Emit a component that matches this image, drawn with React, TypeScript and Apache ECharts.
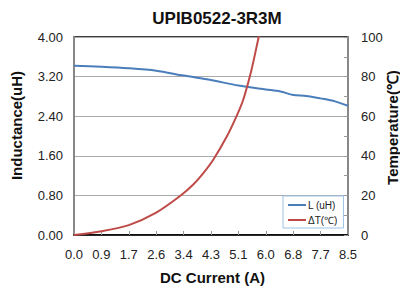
import React, { useEffect, useRef } from "react";
import * as echarts from "echarts";

const xTickLabels = ["0.0", "0.9", "1.7", "2.6", "3.4", "4.3", "5.1", "6.0", "6.8", "7.7", "8.5"];
const lCurrent = [0, 0.85, 1.7, 2.55, 3.4, 4.25, 5.1, 5.95, 6.4, 6.8, 7.2, 7.65, 8.1, 8.5];
const lValues = [3.42, 3.4, 3.37, 3.32, 3.22, 3.13, 3.02, 2.94, 2.9, 2.83, 2.81, 2.76, 2.7, 2.61];
const tCurrent = [0, 0.85, 1.7, 2.55, 3.3, 3.7, 4.0, 4.32, 4.74, 5.05, 5.25, 5.5, 5.65, 5.8];
const tValues = [0, 1.9, 5, 11.3, 19.8, 25.5, 31, 38, 49.7, 60.3, 68.3, 83, 94, 105.5];

const FONT = "Liberation Sans, Arial, sans-serif";

export default function App() {
  const ref = useRef<HTMLDivElement>(null);
  useEffect(() => {
    if (!ref.current) return;
    const chart = echarts.init(ref.current, null, { renderer: "svg" });
    const nameStyle = (text: string) => ({
      text,
      fontFamily: FONT,
      fontWeight: "bold",
      fontSize: 15,
      fill: "#111",
      align: "center",
      verticalAlign: "middle",
    });
    chart.setOption({
      animation: false,
      backgroundColor: "#fff",
      textStyle: { fontFamily: FONT },
      title: {
        text: "UPIB0522-3R3M",
        left: 212,
        top: 5,
        textAlign: "center",
        textStyle: { fontFamily: FONT, fontWeight: "bold", fontSize: 17, color: "#111" },
      },
      legend: {
        orient: "vertical",
        left: 283,
        top: 196,
        padding: [4, 6, 3, 5],
        itemGap: 5,
        itemWidth: 18,
        itemHeight: 2,
        icon: "rect",
        borderColor: "#9dc3e6",
        borderWidth: 1,
        backgroundColor: "#fff",
        textStyle: { fontFamily: FONT, fontSize: 10, color: "#222", padding: [0, 0, 0, -3] },
        data: ["L (uH)", "ΔT(℃)"],
      },
      graphic: [
        { type: "text", x: 16.5, y: 125.5, rotation: Math.PI / 2, style: nameStyle("Inductance(uH)") },
        { type: "text", x: 392, y: 127.5, rotation: Math.PI / 2, style: nameStyle("Temperature(℃)") },
        { type: "text", x: 212.5, y: 277, style: nameStyle("DC Current (A)") },
      ],
      grid: {
        left: 74,
        right: 60,
        top: 37,
        bottom: 53,
        show: true,
        borderColor: "#000",
        borderWidth: 1.5,
        backgroundColor: "#fff",
      },
      xAxis: {
        type: "value",
        min: 0,
        max: 8.5,
        interval: 0.85,
        axisLine: { lineStyle: { color: "#000", width: 1.5 } },
        axisTick: { inside: true, length: 4, lineStyle: { color: "#999" } },
        axisLabel: {
          margin: 13,
          fontSize: 13,
          color: "#222",
          fontFamily: FONT,
          formatter: (v: number) => xTickLabels[Math.round(v / 0.85)] ?? "",
        },
        splitLine: { show: false },
      },
      yAxis: [
        {
          type: "value",
          min: 0,
          max: 4,
          interval: 0.8,
          axisLine: { show: true, lineStyle: { color: "#888", width: 2 } },
          axisTick: { show: false },
          axisLabel: {
            margin: 11,
            fontSize: 13,
            color: "#222",
            fontFamily: FONT,
            formatter: (v: number) => v.toFixed(2),
          },
          splitLine: { show: true, lineStyle: { color: "#aaa", width: 1 } },
        },
        {
          type: "value",
          min: 0,
          max: 100,
          interval: 20,
          position: "right",
          axisLine: { show: true, lineStyle: { color: "#888", width: 2 } },
          axisTick: { show: true, inside: true, length: 4, lineStyle: { color: "#999" } },
          minorTick: { show: true, splitNumber: 2, length: 4, lineStyle: { color: "#999" } },
          axisLabel: { margin: 13, fontSize: 13, color: "#222", fontFamily: FONT },
          splitLine: { show: false },
        },
      ],
      series: [
        {
          name: "L (uH)",
          type: "line",
          yAxisIndex: 0,
          smooth: 0.3,
          showSymbol: false,
          symbol: "none",
          color: "#4a7ebb",
          lineStyle: { color: "#4a7ebb", width: 2 },
          data: lCurrent.map((x, i) => [x, lValues[i]]),
        },
        {
          name: "ΔT(℃)",
          type: "line",
          yAxisIndex: 1,
          smooth: 0.3,
          showSymbol: false,
          symbol: "none",
          clip: true,
          color: "#be4b48",
          lineStyle: { color: "#be4b48", width: 2 },
          data: tCurrent.map((x, i) => [x, tValues[i]]),
        },
      ],
    });
    return () => chart.dispose();
  }, []);
  return <div ref={ref} style={{ width: 408, height: 288, marginTop: -8, marginLeft: -8 }} />;
}
